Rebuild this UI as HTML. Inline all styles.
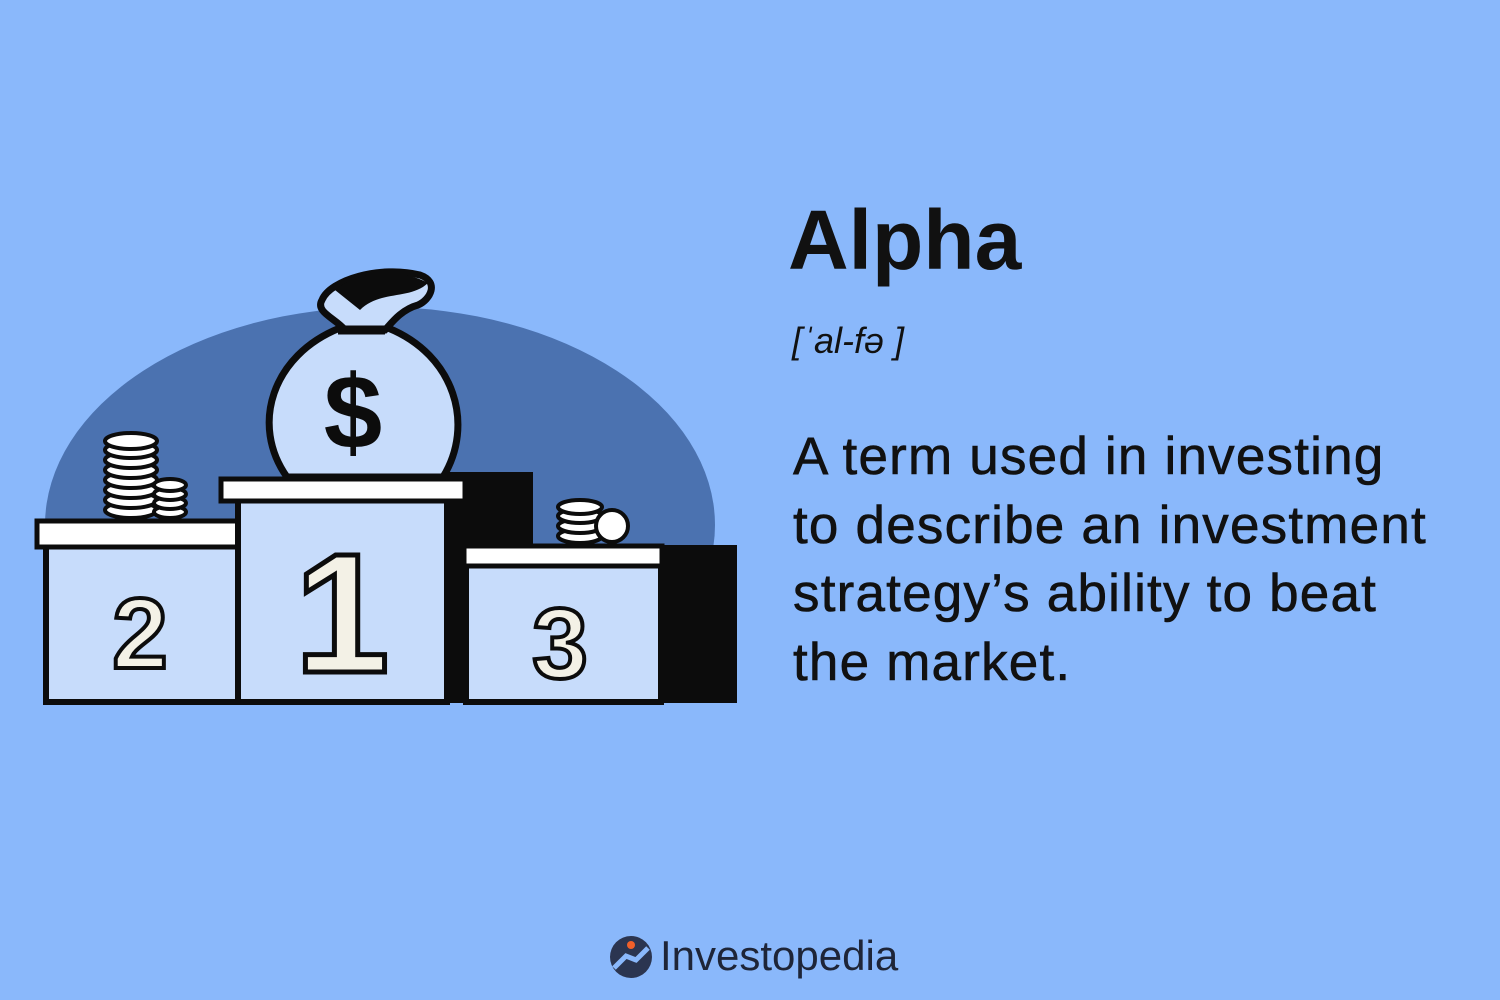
<!DOCTYPE html>
<html><head><meta charset="utf-8"><style>
html,body{margin:0;padding:0;background:#8ab8fb;}
#root{position:relative;width:1500px;height:1000px;overflow:hidden;background:#8ab8fb;font-family:"Liberation Sans","DejaVu Sans",sans-serif;color:#111;}
.t{position:absolute;white-space:nowrap;margin:0;}
</style></head><body>
<div id="root">
<svg width="1500" height="1000" style="position:absolute;left:0;top:0">
  <defs><clipPath id="c"><rect x="0" y="0" width="800" height="600"/></clipPath></defs>
  <ellipse cx="380" cy="525" rx="335" ry="218" fill="#4b72b0" clip-path="url(#c)"/>
  <rect x="440" y="472" width="93" height="231" fill="#0c0c0c"/>
  <rect x="655" y="545" width="82" height="158" fill="#0c0c0c"/>
  <g>
    <rect x="46" y="546" width="192" height="156" fill="#c7dcfb" stroke="#0c0c0c" stroke-width="6"/>
    <rect x="37" y="521" width="204" height="26" fill="#fff" stroke="#0c0c0c" stroke-width="5"/>
    <text x="140" y="668" font-size="100" font-weight="bold" text-anchor="middle" fill="#f3f1e6" stroke="#0c0c0c" stroke-width="4" font-family="Liberation Sans,sans-serif">2</text>
  </g>
  <g>
    <rect x="466" y="563" width="195" height="139" fill="#c7dcfb" stroke="#0c0c0c" stroke-width="6"/>
    <rect x="464" y="546" width="198" height="20" fill="#fff" stroke="#0c0c0c" stroke-width="5"/>
    <text x="560" y="678" font-size="100" font-weight="bold" text-anchor="middle" fill="#f3f1e6" stroke="#0c0c0c" stroke-width="4" font-family="Liberation Sans,sans-serif">3</text>
  </g>
  <g>
    <rect x="238" y="498" width="209" height="204" fill="#c7dcfb" stroke="#0c0c0c" stroke-width="6"/>
    <rect x="221" y="479" width="244" height="22" fill="#fff" stroke="#0c0c0c" stroke-width="5"/>
    <text x="342" y="672" font-size="170" font-weight="bold" text-anchor="middle" fill="#f3f1e6" stroke="#0c0c0c" stroke-width="5" font-family="Liberation Sans,sans-serif">1</text>
  </g>
  <g>
    <path d="M287,477 C250,425 272,355 340,328 L388,328 C455,355 475,425 443,477 Z" fill="#c7dcfb" stroke="#0c0c0c" stroke-width="7"/>
    <path d="M322,300 C330,280 380,265 420,275 C440,282 430,300 418,305 C400,310 390,325 385,330 L345,330 C335,318 315,312 322,300 Z" fill="#c7dcfb" stroke="#0c0c0c" stroke-width="7"/>
    <path d="M335,290 C360,270 400,268 428,283 C410,300 380,290 360,310 Z" fill="#0c0c0c"/>
    <path d="M338,330 L385,330" stroke="#0c0c0c" stroke-width="9"/>
    <text x="353" y="448" font-size="105" text-anchor="middle" fill="#0c0c0c" font-weight="bold" font-family="Liberation Sans,sans-serif">$</text>
  </g>
  <g fill="#fff" stroke="#0c0c0c" stroke-width="4">
    <ellipse cx="131" cy="510" rx="26" ry="8"/><ellipse cx="131" cy="500" rx="26" ry="8"/><ellipse cx="131" cy="490" rx="26" ry="8"/><ellipse cx="131" cy="480" rx="26" ry="8"/><ellipse cx="131" cy="470" rx="26" ry="8"/><ellipse cx="131" cy="460" rx="26" ry="8"/><ellipse cx="131" cy="450" rx="26" ry="8"/><ellipse cx="131" cy="441" rx="26" ry="8"/>
    <ellipse cx="170" cy="512" rx="16" ry="6"/><ellipse cx="170" cy="503" rx="16" ry="6"/><ellipse cx="170" cy="494" rx="16" ry="6"/><ellipse cx="170" cy="485" rx="16" ry="6"/>
    <ellipse cx="580" cy="536" rx="22" ry="7"/><ellipse cx="580" cy="526" rx="22" ry="7"/><ellipse cx="580" cy="516" rx="22" ry="7"/><ellipse cx="580" cy="507" rx="22" ry="7"/>
    <circle cx="612" cy="526" r="16"/>
  </g>
  <g>
    <circle cx="631" cy="957" r="21" fill="#2b3550"/>
    <path d="M614,968 L626,956 L636,960 L648,948" stroke="#8ab8fb" stroke-width="5" fill="none"/>
    <circle cx="631" cy="945" r="4" fill="#f0602a"/>
  </g>
</svg>
<div class="t" style="left:788px;top:192px;font-size:84px;font-weight:bold;letter-spacing:0px;">Alpha</div>
<div class="t" style="left:792px;top:320px;font-size:36px;font-style:italic;">[ˈal-fə ]</div>
<div class="t" style="left:793px;top:423px;font-size:53px;line-height:68.5px;letter-spacing:1.2px;-webkit-text-stroke:0.6px #111;">A term used in investing<br>to describe an investment<br>strategy’s ability to beat<br>the market.</div>
<div class="t" style="left:660px;top:932px;font-size:42px;color:#1e2538;">Investopedia</div>
</div>
</body></html>
